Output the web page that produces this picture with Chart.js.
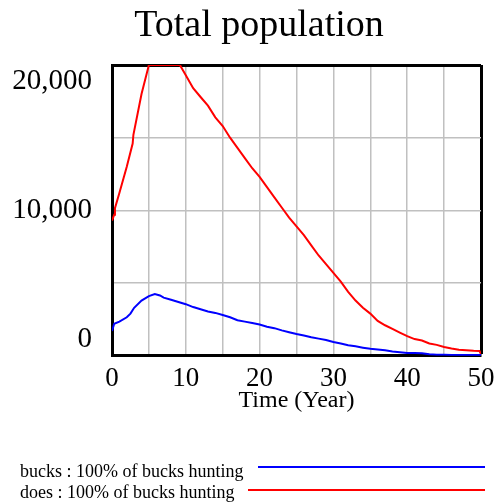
<!DOCTYPE html>
<html lang="en">
<head>
<meta charset="UTF-8">
<title>Total population</title>
<script src="https://cdn.jsdelivr.net/npm/chart.js"></script>
<style>
  body { margin: 0; background: #fff; }
  #wrap { position: relative; width: 500px; height: 504px; }
  #title { position: absolute; left: 0; top: 4px; width: 518px; text-align: center; font: 38px "Liberation Serif", "Times New Roman", serif; line-height: 38px; color: #000; }
  .leg { position: absolute; left: 20px; font: 18px "Liberation Serif", "Times New Roman", serif; line-height: 18px; color: #000; white-space: pre; }
  .swatch { position: absolute; height: 2px; }
</style>
</head>
<body>
<div id="wrap">
  <canvas id="popChart" width="500" height="504"></canvas>
  <div id="title">Total population</div>
  <div class="leg" style="top:462px">bucks : 100% of bucks hunting</div>
  <div class="swatch" style="left:258px;width:227px;top:466px;background:#0000ff"></div>
  <div class="leg" style="top:483px">does : 100% of bucks hunting</div>
  <div class="swatch" style="left:248px;width:237px;top:489px;background:#ff0000"></div>
</div>
<script>
// values (time in years, population)
const doesTime = [0, 0.3, 0.4, 1, 2, 2.8, 2.9, 4, 5, 9.2, 10, 11, 12, 13, 14, 15, 16, 17, 18, 19, 20,
  21, 22, 23, 24, 25, 26, 27, 28, 29, 30, 31, 32, 33, 34, 35, 36, 37, 38, 39, 40,
  41, 42, 43, 44, 45, 46, 47, 48, 49, 49.8, 50];
const doesValues = [9300, 9700, 10150, 11200, 13000, 14600, 15200, 18000, 20000, 20000, 19300, 18400, 17800, 17200, 16400, 15800, 15000, 14300, 13600, 12900, 12300,
  11600, 10900, 10200, 9500, 8900, 8300, 7600, 6900, 6300, 5700, 5100, 4400, 3800, 3300, 2900, 2400, 2100, 1850, 1600, 1350,
  1150, 1050, 850, 750, 600, 500, 420, 380, 340, 330, 120];

const bucksTime = [0, 0.3, 1, 2, 2.5, 3, 4, 5, 5.8, 6.5, 7, 8, 9, 10, 11, 12, 13, 14, 15, 16, 17, 18, 19, 20,
  21, 22, 23, 24, 25, 26, 27, 28, 29, 30, 31, 32, 33, 34, 35, 36, 37, 38, 39, 40,
  41, 42, 43, 44, 45, 46, 47, 48, 49, 50];
const bucksValues = [1700, 2200, 2350, 2650, 2900, 3300, 3800, 4100, 4250, 4150, 4000, 3850, 3700, 3550, 3350, 3200, 3050, 2950, 2800, 2650, 2450, 2350, 2250, 2150,
  2000, 1900, 1750, 1620, 1500, 1400, 1280, 1180, 1090, 950, 850, 730, 650, 560, 480, 440, 380, 300, 250, 200,
  200, 180, 100, 80, 70, 60, 60, 50, 50, 50];

const yTickLabels = { 0: ['0', ''], 10000: '10,000', 20000: ['', '20,000'] };
const xTickLabels = [0, 10, 20, 30, 40, 50];

const serif = '"Liberation Serif", "Times New Roman", serif';

function toPoints(xs, ys) {
  return xs.map((x, i) => ({ x: x, y: ys[i] }));
}

const ctx = document.getElementById('popChart').getContext('2d');
const popChart = new Chart(ctx, {
  type: 'line',
  data: {
    datasets: [
      {
        label: 'bucks : 100% of bucks hunting',
        data: toPoints(bucksTime, bucksValues),
        borderColor: '#0000ff',
        borderWidth: 2,
        pointRadius: 0,
        tension: 0
      },
      {
        label: 'does : 100% of bucks hunting',
        data: toPoints(doesTime, doesValues),
        borderColor: '#ff0000',
        borderWidth: 2,
        pointRadius: 0,
        tension: 0
      }
    ]
  },
  options: {
    responsive: false,
    animation: false,
    layout: { padding: { left: 0, right: 19, top: 65, bottom: 89 } },
    plugins: {
      legend: { display: false },
      tooltip: { enabled: false },
      title: { display: false }
    },
    scales: {
      x: {
        type: 'linear',
        min: 0,
        max: 50,
        border: { color: '#000', width: 3 },
        afterFit: (scale) => { scale.paddingLeft = 0; scale.paddingRight = 0; },
        grid: {
          drawTicks: false,
          color: (c) => c.tick && c.tick.value === 50 ? '#000' : '#c0c0c0',
          lineWidth: (c) => c.tick && c.tick.value === 50 ? 3 : 1.5
        },
        ticks: {
          stepSize: 5,
          autoSkip: false,
          maxRotation: 0,
          padding: 15,
          color: '#000',
          font: { family: serif, size: 27, lineHeight: 0.63 },
          callback: (v) => xTickLabels.includes(v) ? String(v) : ''
        },
        title: {
          display: true,
          text: 'Time (Year)',
          color: '#000',
          padding: { top: -12, bottom: 5 },
          font: { family: serif, size: 24, lineHeight: 0.8 }
        }
      },
      y: {
        min: 0,
        max: 20000,
        border: { color: '#000', width: 3 },
        afterFit: (scale) => { scale.width = 112; },
        grid: {
          drawTicks: false,
          color: (c) => c.tick && c.tick.value === 20000 ? '#000' : '#c0c0c0',
          lineWidth: (c) => c.tick && c.tick.value === 20000 ? 3 : 1.5
        },
        ticks: {
          stepSize: 5000,
          autoSkip: false,
          padding: 20,
          color: '#000',
          font: { family: serif, size: 29, lineHeight: 1.1 },
          callback: (v) => yTickLabels[v] !== undefined ? yTickLabels[v] : ''
        }
      }
    }
  }
});
</script>
</body>
</html>
